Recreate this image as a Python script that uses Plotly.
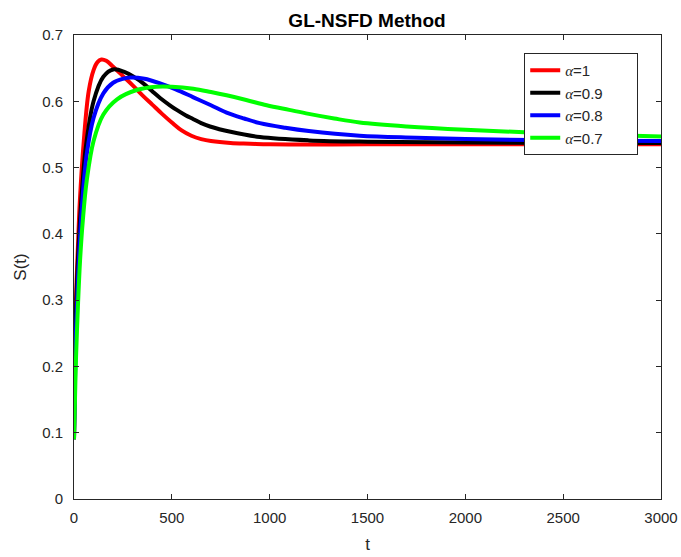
import plotly.graph_objects as go

# Data
t_red = [0, 5, 10, 20, 30, 50, 75, 100, 120, 140, 165, 200, 250, 300, 350, 400, 450, 500, 550, 600, 650, 700, 800, 900, 1000, 1500, 2000, 2500, 3000]
s_red = [0.09, 0.22, 0.30, 0.38, 0.45, 0.54, 0.615, 0.647, 0.659, 0.663, 0.661, 0.652, 0.638, 0.624, 0.609, 0.595, 0.581, 0.568, 0.556, 0.548, 0.543, 0.540, 0.537, 0.536, 0.535, 0.535, 0.535, 0.535, 0.535]

t_black = [0, 5, 10, 20, 35, 60, 100, 150, 200, 260, 310, 354, 400, 440, 490, 525, 570, 610, 650, 695, 800, 950, 1200, 1500, 2000, 2500, 3000]
s_black = [0.09, 0.20, 0.28, 0.36, 0.44, 0.53, 0.60, 0.637, 0.648, 0.644, 0.636, 0.627, 0.615, 0.605, 0.594, 0.587, 0.579, 0.573, 0.567, 0.562, 0.554, 0.546, 0.541, 0.539, 0.538, 0.537, 0.537]

t_blue = [0, 5, 10, 20, 40, 65, 100, 150, 200, 250, 290, 360, 440, 520, 610, 700, 780, 870, 950, 1080, 1200, 1460, 1750, 2000, 2500, 3000]
s_blue = [0.09, 0.18, 0.25, 0.33, 0.44, 0.52, 0.575, 0.612, 0.628, 0.634, 0.636, 0.634, 0.627, 0.618, 0.606, 0.594, 0.583, 0.574, 0.567, 0.560, 0.555, 0.548, 0.545, 0.543, 0.541, 0.540]

t_green = [0, 5, 10, 20, 31, 45, 65, 100, 150, 220, 320, 420, 500, 610, 700, 780, 880, 985, 1100, 1200, 1330, 1460, 1700, 2000, 2500, 3000]
s_green = [0.09, 0.15, 0.21, 0.29, 0.36, 0.42, 0.48, 0.54, 0.58, 0.603, 0.617, 0.622, 0.622, 0.619, 0.614, 0.609, 0.602, 0.594, 0.587, 0.581, 0.574, 0.568, 0.562, 0.557, 0.551, 0.547]

names = ["1", "0.9", "0.8", "0.7"]
colors = ["#ff0000", "#000000", "#0000ff", "#00ff00"]
series = [(t_red, s_red), (t_black, s_black), (t_blue, s_blue), (t_green, s_green)]

fig = go.Figure()
for (tx, sy), nm, col in zip(series, names, colors):
    fig.add_trace(go.Scatter(
        x=tx, y=sy, mode="lines",
        line=dict(color=col, width=4, shape="spline", smoothing=1.0),
        name="<span style='font-family:\"Liberation Serif\", serif; font-style:italic'>α</span>=" + nm + "\u00a0" * 7,
    ))

axis_common = dict(
    showline=True, linecolor="#262626", linewidth=1, mirror="ticks",
    ticks="inside", ticklen=5, tickcolor="#262626",
    showgrid=False, zeroline=False, automargin=False,
    tickfont=dict(family="Liberation Sans, Arial, sans-serif", size=15, color="#262626"),
)

fig.update_layout(
    width=681, height=557,
    margin=dict(l=74, r=20, t=35, b=58),
    paper_bgcolor="white", plot_bgcolor="white",
    font=dict(family="Liberation Sans, Arial, sans-serif", color="#262626"),
    title=dict(text="<b>GL-NSFD Method</b>", x=(367 / 681), xanchor="center",
               y=1 - 20 / 557, yanchor="middle",
               font=dict(size=19, color="#000000")),
    xaxis=dict(range=[0, 3000], tickvals=[0, 500, 1000, 1500, 2000, 2500, 3000],
               ticklabelstandoff=5,
               title=dict(text="t", font=dict(size=17), standoff=13), **axis_common),
    yaxis=dict(range=[0, 0.7], tickvals=[0, 0.1, 0.2, 0.3, 0.4, 0.5, 0.6, 0.7],
               tickformat=".1~f", ticklabelstandoff=7,
               title=dict(text="S(t)", font=dict(size=17), standoff=11), **axis_common),
    legend=dict(x=0.767, y=0.961, xanchor="left", yanchor="top",
                bgcolor="white", bordercolor="#262626", borderwidth=1,
                font=dict(size=15, color="#262626"), tracegroupgap=0),
    showlegend=True,
    hovermode=False,
)

fig.write_html(
    "out.html",
    config={"displayModeBar": False},
    post_script="document.body.style.margin='0';document.body.style.overflow='hidden';",
)
